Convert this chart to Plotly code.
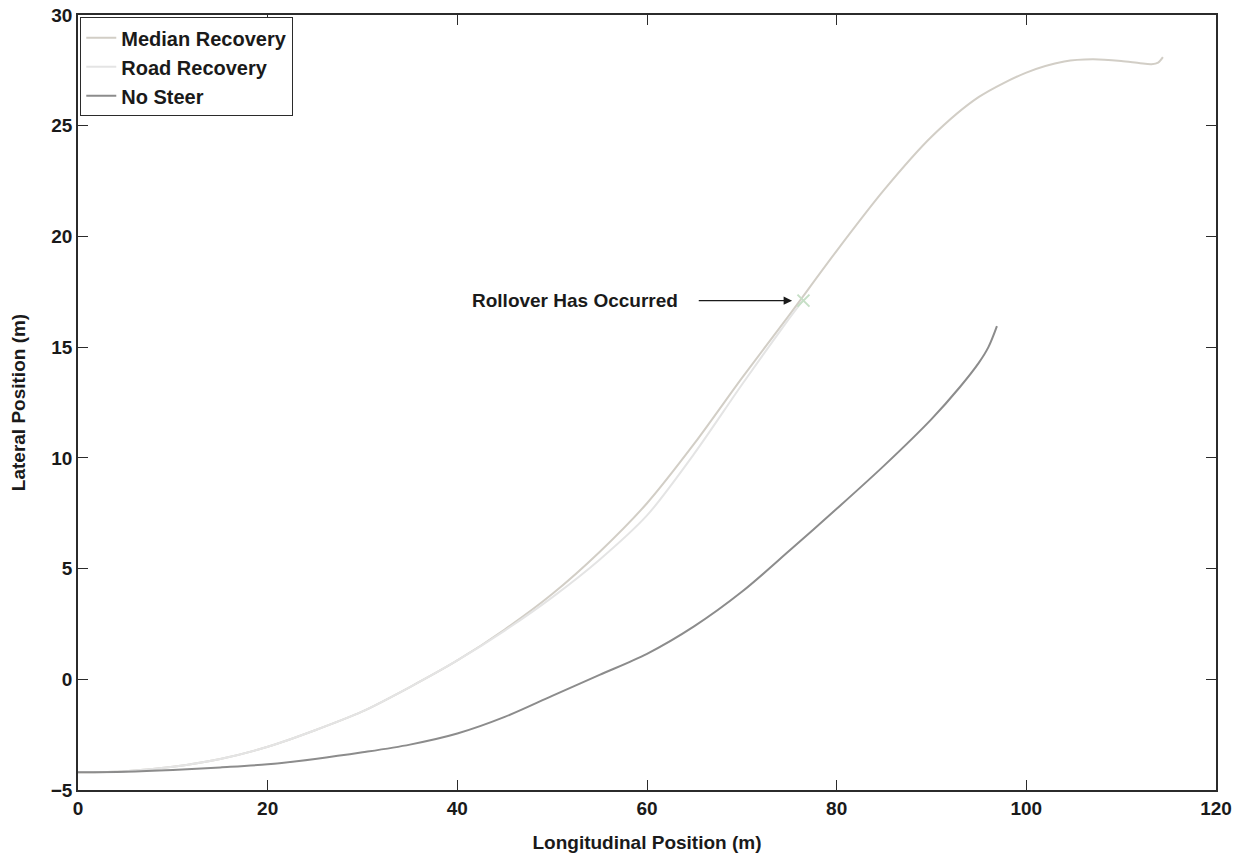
import plotly.graph_objects as go

# Median Recovery trajectory
median_x = [0, 5, 10, 15, 20, 25, 30, 35, 40, 45, 50, 55, 60, 65, 70, 75, 80, 85, 90, 95, 100, 104, 107, 110, 112, 113.2, 113.9, 114.4]
median_y = [-4.2, -4.15, -3.95, -3.6, -3.05, -2.3, -1.45, -0.35, 0.85, 2.25, 3.85, 5.75, 7.95, 10.65, 13.6, 16.45, 19.35, 22.1, 24.5, 26.3, 27.4, 27.9, 28.0, 27.92, 27.82, 27.78, 27.85, 28.1]

# Road Recovery trajectory (ends at rollover)
road_x = [0, 5, 10, 15, 20, 25, 30, 35, 40, 45, 50, 55, 60, 65, 70, 75, 76.5]
road_y = [-4.2, -4.15, -3.95, -3.6, -3.05, -2.3, -1.45, -0.35, 0.85, 2.2, 3.7, 5.4, 7.4, 10.2, 13.3, 16.3, 17.15]

# No Steer trajectory
nosteer_x = [0, 5, 10, 15, 20, 25, 30, 35, 40, 45, 50, 55, 60, 65, 70, 75, 80, 85, 90, 93, 95, 96, 96.9]
nosteer_y = [-4.2, -4.18, -4.1, -3.98, -3.84, -3.6, -3.3, -2.95, -2.45, -1.7, -0.75, 0.2, 1.15, 2.4, 3.95, 5.8, 7.7, 9.65, 11.75, 13.2, 14.3, 15.0, 15.95]

rollover_x = [76.5]
rollover_y = [17.1]

axis_color = "#2b2b2b"
text_color = "#1a1a1a"
font_family = "Liberation Sans, Arial, Helvetica, sans-serif"

fig = go.Figure()
fig.add_trace(go.Scatter(x=median_x, y=median_y, mode="lines", name="Median Recovery",
                         line=dict(color="#d2cec6", width=2, shape="spline", smoothing=0.8)))
fig.add_trace(go.Scatter(x=road_x, y=road_y, mode="lines", name="Road Recovery",
                         line=dict(color="#e4e4e4", width=2, shape="spline", smoothing=0.8)))
fig.add_trace(go.Scatter(x=nosteer_x, y=nosteer_y, mode="lines", name="No Steer",
                         line=dict(color="#8c8c8c", width=2, shape="spline", smoothing=0.9)))
fig.add_trace(go.Scatter(x=rollover_x, y=rollover_y, mode="markers", showlegend=False,
                         marker=dict(symbol="x-thin", size=12, line=dict(color="#c6dfc6", width=2))))

fig.add_annotation(x=63.5, y=17.1, xref="x", yref="y", text="Rollover Has Occurred",
                   showarrow=False, xanchor="right", yanchor="middle",
                   font=dict(family=font_family, size=19, color=text_color, weight="bold"))
fig.add_annotation(x=75.3, y=17.1, ax=65.3, ay=17.1, xref="x", yref="y", axref="x", ayref="y",
                   text="", showarrow=True, arrowhead=2, arrowsize=1.3, arrowwidth=1.3,
                   arrowcolor=text_color)

axis_common = dict(showline=True, linecolor=axis_color, linewidth=1.5, mirror="ticks",
                   ticks="inside", ticklen=10, tickwidth=1.2, tickcolor=axis_color,
                   showgrid=False, zeroline=False, automargin=False,
                   tickfont=dict(family=font_family, size=19, color=text_color, weight="bold"))

fig.update_xaxes(range=[0, 120], tickvals=[0, 20, 40, 60, 80, 100, 120],
                 title=dict(text="Longitudinal Position (m)", standoff=18,
                            font=dict(family=font_family, size=19, color=text_color, weight="bold")),
                 **axis_common)
fig.update_yaxes(range=[-5, 30], tickvals=[-5, 0, 5, 10, 15, 20, 25, 30],
                 title=dict(text="Lateral Position (m)", standoff=20,
                            font=dict(family=font_family, size=19, color=text_color, weight="bold")),
                 **axis_common)

fig.update_layout(
    width=1246, height=859,
    margin=dict(l=78, r=30, t=15, b=69),
    plot_bgcolor="white", paper_bgcolor="white",
    legend=dict(x=0.002, y=0.997, xanchor="left", yanchor="top",
                bgcolor="white", bordercolor=axis_color, borderwidth=1,
                font=dict(family=font_family, size=20, color=text_color, weight="bold"),
                tracegroupgap=0, itemwidth=30),
)

fig.write_html("out.html", config={"displayModeBar": False},
               post_script="document.body.style.margin='0';")
